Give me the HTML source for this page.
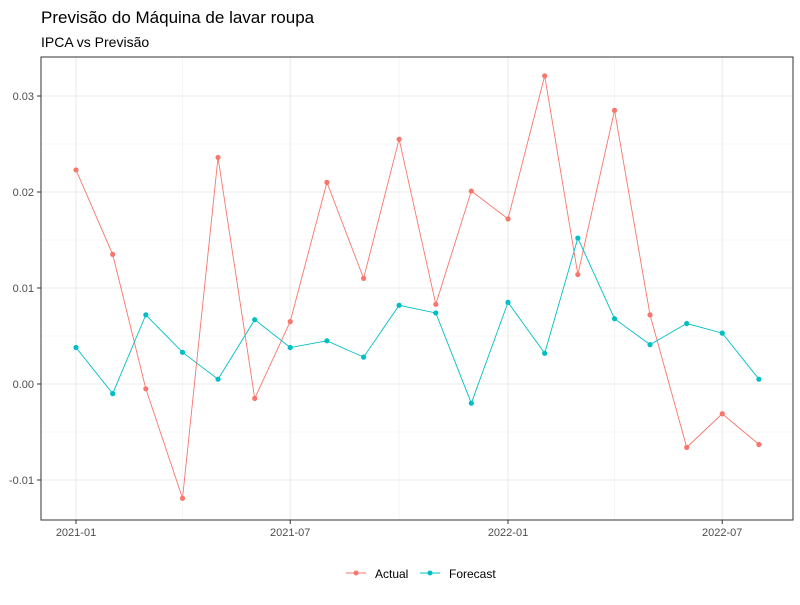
<!DOCTYPE html>
<html><head><meta charset="utf-8"><style>
body{margin:0;background:#fff;font-family:"Liberation Sans",sans-serif;}
</style></head><body>
<svg id="chart" width="800" height="600" xmlns="http://www.w3.org/2000/svg">
<text x="41" y="23" font-size="17" fill="#000">Previsão do Máquina de lavar roupa</text>
<text x="41" y="47" font-size="14" fill="#000">IPCA vs Previsão</text>
<g id="grid"></g>
<g id="series"></g>
<rect x="41" y="57" width="752" height="463" fill="none" stroke="#333" stroke-width="1"/>
<g id="axes"></g>
<g>
<g>
<line x1="346" y1="573" x2="366" y2="573" stroke="#F8766D"/><circle cx="356" cy="573" r="2.5" fill="#F8766D"/>
<text x="375" y="578" font-size="12" fill="#000">Actual</text></g>
<g>
<line x1="420" y1="573" x2="440" y2="573" stroke="#00BFC4"/><circle cx="430" cy="573" r="2.5" fill="#00BFC4"/>
<text x="449" y="578" font-size="12" fill="#000">Forecast</text></g>
</g>
</svg>
<script>
const months = ["2021-01","2021-02","2021-03","2021-04","2021-05","2021-06","2021-07","2021-08","2021-09","2021-10","2021-11","2021-12","2022-01","2022-02","2022-03","2022-04","2022-05","2022-06","2022-07","2022-08"];
const actual = [0.0223,0.0135,-0.0005,-0.0119,0.0236,-0.0015,0.0065,0.021,0.011,0.0255,0.0083,0.0201,0.0172,0.0321,0.0114,0.0285,0.0072,-0.0066,-0.0031,-0.0063];
const forecast = [0.0038,-0.0010,0.0072,0.0033,0.0005,0.0067,0.0038,0.0045,0.0028,0.0082,0.0074,-0.0020,0.0085,0.0032,0.0152,0.0068,0.0041,0.0063,0.0053,0.0005];
const yTicks = [-0.01,0,0.01,0.02,0.03];
const yTickLabels = ["-0.01","0.00","0.01","0.02","0.03"];
const xTicks = ["2021-01","2021-07","2022-01","2022-07"];
const xMinor = ["2021-04","2021-10","2022-04"];

const NS="http://www.w3.org/2000/svg";
const t0=Date.UTC(2021,0,1);
function d(s){const p=s.split("-");return Date.UTC(+p[0],+p[1]-1,1);}
function x(s){return 76+(d(s)-t0)/86400000*(432/365);}
function y(v){return 384-v*9600;}
function mk(tag,attrs,parent){const e=document.createElementNS(NS,tag);for(const k in attrs)e.setAttribute(k,attrs[k]);parent.appendChild(e);return e;}
const grid=document.getElementById("grid"),series=document.getElementById("series"),axes=document.getElementById("axes");
for(let i=0;i<yTicks.length-1;i++){const v=(yTicks[i]+yTicks[i+1])/2;
 const l=mk("line",{x1:41,x2:793,y1:y(v),y2:y(v),stroke:"#f0f0f0","stroke-width":0.6},grid);
 
 }
xMinor.forEach(m=>{const l=mk("line",{x1:x(m),x2:x(m),y1:57,y2:520,stroke:"#f0f0f0","stroke-width":0.6},grid);
 
 });
yTicks.forEach((v,i)=>{const l=mk("line",{x1:41,x2:793,y1:y(v),y2:y(v),stroke:"#ebebeb","stroke-width":1.1},grid);
 
 
 mk("line",{x1:37,x2:41,y1:y(v),y2:y(v),stroke:"#333"},axes);
 const t=mk("text",{x:34,y:y(v)+4,"font-size":11,fill:"#4d4d4d","text-anchor":"end"},axes);t.textContent=yTickLabels[i];
 
 });
xTicks.forEach(m=>{const l=mk("line",{x1:x(m),x2:x(m),y1:57,y2:520,stroke:"#ebebeb","stroke-width":1.1},grid);
 
 
 mk("line",{x1:x(m),x2:x(m),y1:520,y2:524,stroke:"#333"},axes);
 const t=mk("text",{x:x(m),y:536,"font-size":11,fill:"#4d4d4d","text-anchor":"middle"},axes);t.textContent=m;
 
 });
function draw(vals,color,name){
 const pl=mk("polyline",{points:vals.map((v,i)=>x(months[i])+","+y(v)).join(" "),fill:"none",stroke:color,"stroke-width":0.9},series);
 
 
 vals.forEach((v,i)=>{const c=mk("circle",{cx:x(months[i]),cy:y(v),r:2.6,fill:color},series);
  
  });
}
draw(actual,"#F8766D","actual");
draw(forecast,"#00BFC4","forecast");
</script>
</body></html>
